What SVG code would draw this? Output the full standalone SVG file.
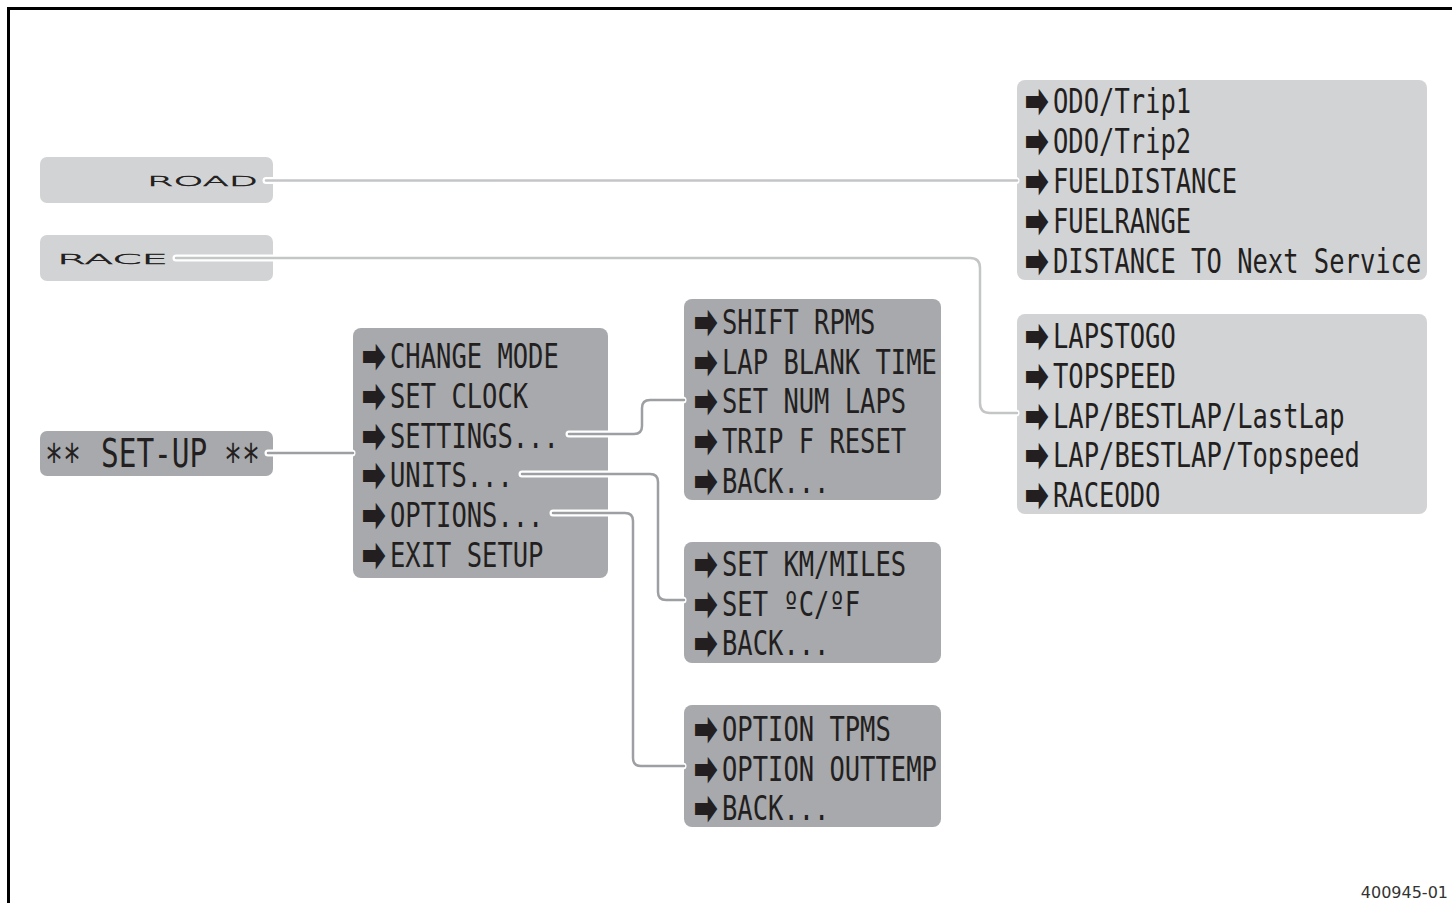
<svg xmlns="http://www.w3.org/2000/svg" width="1452" height="903" viewBox="0 0 1452 903">
<style>
.lb{fill:#d2d3d5}
.db{fill:#a7a9ac}
.t{font-family:"DejaVu Sans Mono",monospace;font-size:25.5px;fill:#231f20}
.big{font-size:44px}
.su{font-size:29.4px}
.a{font-family:"DejaVu Sans",sans-serif;font-size:25px;fill:#231f20;stroke:#231f20;stroke-width:2.8;stroke-linejoin:miter}
.m{font-family:"DejaVu Sans",sans-serif;font-size:14px;font-weight:200;fill:#231f20;stroke:#231f20;stroke-width:0.5}
.ow{fill:none;stroke:#fff;stroke-width:7;stroke-linecap:round;stroke-linejoin:round}
.cl{fill:none;stroke:#c4c5c7;stroke-width:2.5;stroke-linecap:round;stroke-linejoin:round}
.cd{fill:none;stroke:#9d9fa2;stroke-width:2.5;stroke-linecap:round;stroke-linejoin:round}
</style>
<rect width="1452" height="903" fill="#fff"/>
<path d="M8.5,903 V8.5 H1452" fill="none" stroke="#000" stroke-width="3"/>

<g id="road">
<rect class="lb" x="40" y="157" width="233" height="46" rx="7"/>
<text class="m" x="147" y="186" textLength="111" lengthAdjust="spacingAndGlyphs">ROAD</text>
</g>
<g id="race">
<rect class="lb" x="40" y="235" width="233" height="46" rx="7"/>
<text class="m" x="57" y="264" textLength="111" lengthAdjust="spacingAndGlyphs">RACE</text>
</g>
<g id="setup">
<rect class="db" x="40" y="431" width="233" height="45" rx="7"/>
<text class="t big" transform="translate(45,476) scale(0.68,1)">**</text>
<text class="t su" transform="translate(101,467) scale(1,1.31)">SET-UP</text>
<text class="t big" transform="translate(224,476) scale(0.68,1)">**</text>
</g>

<g id="road-list">
<rect class="lb" x="1017" y="80" width="410" height="200" rx="8"/>
<text class="a" transform="translate(1026,113) scale(1,1.4)">➡</text><text class="t" transform="translate(1053,113) scale(1,1.333)">ODO/Trip1</text>
<text class="a" transform="translate(1026,153) scale(1,1.4)">➡</text><text class="t" transform="translate(1053,153) scale(1,1.333)">ODO/Trip2</text>
<text class="a" transform="translate(1026,193) scale(1,1.4)">➡</text><text class="t" transform="translate(1053,193) scale(1,1.333)">FUELDISTANCE</text>
<text class="a" transform="translate(1026,233) scale(1,1.4)">➡</text><text class="t" transform="translate(1053,233) scale(1,1.333)">FUELRANGE</text>
<text class="a" transform="translate(1026,273) scale(1,1.4)">➡</text><text class="t" transform="translate(1053,273) scale(1,1.333)">DISTANCE TO Next Service</text>
</g>

<g id="race-list">
<rect class="lb" x="1017" y="314" width="410" height="200" rx="8"/>
<text class="a" transform="translate(1026,348) scale(1,1.4)">➡</text><text class="t" transform="translate(1053,348) scale(1,1.333)">LAPSTOGO</text>
<text class="a" transform="translate(1026,388) scale(1,1.4)">➡</text><text class="t" transform="translate(1053,388) scale(1,1.333)">TOPSPEED</text>
<text class="a" transform="translate(1026,428) scale(1,1.4)">➡</text><text class="t" transform="translate(1053,428) scale(1,1.333)">LAP/BESTLAP/LastLap</text>
<text class="a" transform="translate(1026,467) scale(1,1.4)">➡</text><text class="t" transform="translate(1053,467) scale(1,1.333)">LAP/BESTLAP/Topspeed</text>
<text class="a" transform="translate(1026,507) scale(1,1.4)">➡</text><text class="t" transform="translate(1053,507) scale(1,1.333)">RACEODO</text>
</g>

<g id="setup-menu">
<rect class="db" x="353" y="328" width="255" height="250" rx="8"/>
<text class="a" transform="translate(363,368) scale(1,1.4)">➡</text><text class="t" transform="translate(390,368) scale(1,1.333)">CHANGE MODE</text>
<text class="a" transform="translate(363,408) scale(1,1.4)">➡</text><text class="t" transform="translate(390,408) scale(1,1.333)">SET CLOCK</text>
<text class="a" transform="translate(363,448) scale(1,1.4)">➡</text><text class="t" transform="translate(390,448) scale(1,1.333)">SETTINGS...</text>
<text class="a" transform="translate(363,487) scale(1,1.4)">➡</text><text class="t" transform="translate(390,487) scale(1,1.333)">UNITS...</text>
<text class="a" transform="translate(363,527) scale(1,1.4)">➡</text><text class="t" transform="translate(390,527) scale(1,1.333)">OPTIONS...</text>
<text class="a" transform="translate(363,567) scale(1,1.4)">➡</text><text class="t" transform="translate(390,567) scale(1,1.333)">EXIT SETUP</text>
</g>

<g id="settings-menu">
<rect class="db" x="684" y="299" width="257" height="201" rx="8"/>
<text class="a" transform="translate(695,334) scale(1,1.4)">➡</text><text class="t" transform="translate(722,334) scale(1,1.333)">SHIFT RPMS</text>
<text class="a" transform="translate(695,374) scale(1,1.4)">➡</text><text class="t" transform="translate(722,374) scale(1,1.333)">LAP BLANK TIME</text>
<text class="a" transform="translate(695,413) scale(1,1.4)">➡</text><text class="t" transform="translate(722,413) scale(1,1.333)">SET NUM LAPS</text>
<text class="a" transform="translate(695,453) scale(1,1.4)">➡</text><text class="t" transform="translate(722,453) scale(1,1.333)">TRIP F RESET</text>
<text class="a" transform="translate(695,493) scale(1,1.4)">➡</text><text class="t" transform="translate(722,493) scale(1,1.333)">BACK...</text>
</g>

<g id="units-menu">
<rect class="db" x="684" y="542" width="257" height="121" rx="8"/>
<text class="a" transform="translate(695,576) scale(1,1.4)">➡</text><text class="t" transform="translate(722,576) scale(1,1.333)">SET KM/MILES</text>
<text class="a" transform="translate(695,616) scale(1,1.4)">➡</text><text class="t" transform="translate(722,616) scale(1,1.333)">SET ºC/ºF</text>
<text class="a" transform="translate(695,655) scale(1,1.4)">➡</text><text class="t" transform="translate(722,655) scale(1,1.333)">BACK...</text>
</g>

<g id="options-menu">
<rect class="db" x="684" y="705" width="257" height="122" rx="8"/>
<text class="a" transform="translate(695,741) scale(1,1.4)">➡</text><text class="t" transform="translate(722,741) scale(1,1.333)">OPTION TPMS</text>
<text class="a" transform="translate(695,781) scale(1,1.4)">➡</text><text class="t" transform="translate(722,781) scale(1,1.333)">OPTION OUTTEMP</text>
<text class="a" transform="translate(695,820) scale(1,1.4)">➡</text><text class="t" transform="translate(722,820) scale(1,1.333)">BACK...</text>
</g>

<g id="connectors">
<path class="ow" d="M266,180.5 H1016"/>
<path class="cl" d="M266,180.5 H1017"/>
<path class="ow" d="M176,258 H970 Q980,258 980,268 V403 Q980,413 990,413 H1016"/>
<path class="cl" d="M176,258 H970 Q980,258 980,268 V403 Q980,413 990,413 H1017"/>
<path class="ow" d="M268,453 H352"/>
<path class="cd" d="M268,453 H353"/>
<path class="ow" d="M569,434 H634 Q642,434 642,426 V408 Q642,400 650,400 H683"/>
<path class="cd" d="M569,434 H634 Q642,434 642,426 V408 Q642,400 650,400 H684"/>
<path class="ow" d="M522,474 H650 Q658,474 658,482 V592 Q658,600 666,600 H683"/>
<path class="cd" d="M522,474 H650 Q658,474 658,482 V592 Q658,600 666,600 H684"/>
<path class="ow" d="M553,513 H625 Q633,513 633,521 V758 Q633,766 641,766 H683"/>
<path class="cd" d="M553,513 H625 Q633,513 633,521 V758 Q633,766 641,766 H684"/>
</g>

<text x="1448" y="898" text-anchor="end" font-family="DejaVu Sans, sans-serif" font-size="16" fill="#333">400945-01</text>
</svg>
